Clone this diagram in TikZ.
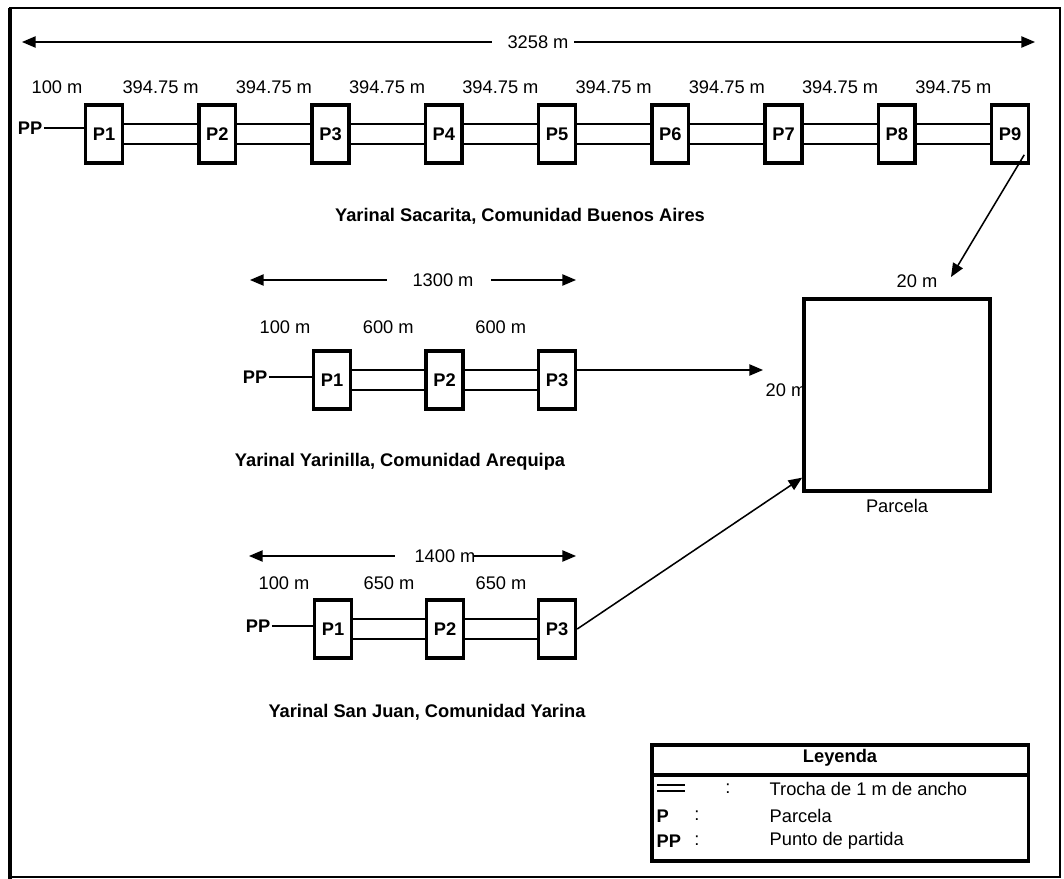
\documentclass[tikz,border=0pt]{standalone}
\usepackage{fontspec}
\setmainfont{Liberation Sans}
\usetikzlibrary{arrows.meta, positioning, calc}

\begin{document}
\begin{tikzpicture}[x=0.025cm, y=-0.025cm,
  every node/.style={font=\fontsize{13}{15}\selectfont, inner sep=1pt},
  parc/.style={draw, line width=2.6pt, minimum width=0.92cm, minimum height=1.45cm,
               font=\fontsize{13}{15}\selectfont\bfseries, inner sep=0pt},
  ttl/.style={font=\fontsize{13}{15}\selectfont\bfseries},
  pp/.style={font=\fontsize{13}{15}\selectfont\bfseries},
  trocha/.style={line width=0.9pt},
  dim/.style={-{Triangle[length=3.4mm,width=2.8mm]}, line width=1.1pt},
  conn/.style={-{Triangle[length=3.4mm,width=2.8mm]}, line width=1.1pt},
  legline/.style={line width=2.2pt},
]
\useasboundingbox (0,0) rectangle (1064,879);

%% ---- Frame ----
\draw[line width=1pt] (10,8) rectangle (1060,877);
\draw[line width=2.2pt] (10,8) -- (10,879);

%% ---- Row 1: Yarinal Sacarita ----
\node (dA) at (538,42) {3258 m};
\coordinate (dAl) at (22,42);
\coordinate (dAr) at (1035,42);
\draw[dim] ([xshift=-3.5mm]dA.west) -- (dAl);
\draw[dim] ([xshift=1mm]dA.east) -- (dAr);

\foreach \i in {1,...,9}
  \node[parc] (a\i) at ({104+113.25*(\i-1)},134) {P\i};
\foreach \i [count=\j from 2] in {1,...,8} {
  \draw[trocha] ([yshift=2.5mm]a\i.east) -- ([yshift=2.5mm]a\j.west);
  \draw[trocha] ([yshift=-2.5mm]a\i.east) -- ([yshift=-2.5mm]a\j.west);
  \node (da\i) at ({104+113.25*(\i-0.5)},87) {394.75 m};
}
\node (da0) at (57,87) {100 m};
\node[pp] (ppA) at (30,128) {PP};
\draw[trocha] (ppA.east) -- (ppA.east -| a1.west);
\node[ttl] (tA) at (520,216) {Yarinal Sacarita, Comunidad Buenos Aires};

%% ---- Row 2: Yarinal Yarinilla ----
\node (dB) at (443,280) {1300 m};
\coordinate (dBl) at (250,280);
\coordinate (dBr) at (576,280);
\draw[dim] ([xshift=-6mm]dB.west) -- (dBl);
\draw[dim] ([xshift=4mm]dB.east) -- (dBr);

\foreach \i in {1,2,3}
  \node[parc] (b\i) at ({332+112.5*(\i-1)},380) {P\i};
\foreach \i [count=\j from 2] in {1,2} {
  \draw[trocha] ([yshift=2.5mm]b\i.east) -- ([yshift=2.5mm]b\j.west);
  \draw[trocha] ([yshift=-2.5mm]b\i.east) -- ([yshift=-2.5mm]b\j.west);
  \node (db\i) at ({332+112.5*(\i-0.5)},327) {600 m};
}
\node (db0) at (285,327) {100 m};
\node[pp] (ppB) at (255,377) {PP};
\draw[trocha] (ppB.east) -- (ppB.east -| b1.west);
\node[ttl] (tB) at (400,462) {Yarinal Yarinilla, Comunidad Arequipa};

%% ---- Row 3: Yarinal San Juan ----
\node (dC) at (445,556) {1400 m};
\coordinate (dCl) at (249,556);
\coordinate (dCr) at (576,556);
\draw[dim] ([xshift=-4.5mm]dC.west) -- (dCl);
\draw[dim] ([xshift=-1mm]dC.east) -- (dCr);

\foreach \i in {1,2,3}
  \node[parc] (c\i) at ({333+112*(\i-1)},629) {P\i};
\foreach \i [count=\j from 2] in {1,2} {
  \draw[trocha] ([yshift=2.5mm]c\i.east) -- ([yshift=2.5mm]c\j.west);
  \draw[trocha] ([yshift=-2.5mm]c\i.east) -- ([yshift=-2.5mm]c\j.west);
  \node (dc\i) at ({333+112*(\i-0.5)},583) {650 m};
}
\node (dc0) at (284,583) {100 m};
\node[pp] (ppC) at (258,626) {PP};
\draw[trocha] (ppC.east) -- (ppC.east -| c1.west);
\node[ttl] (tC) at (427,712) {Yarinal San Juan, Comunidad Yarina};

%% ---- Parcela 20 x 20 m ----
\node (lw) at (786,390) {20 m};
\node (ln) at (917,281) {20 m};
\node[draw, fill=white, line width=2.6pt, minimum width=4.65cm, minimum height=4.8cm]
  (parcela) at (897,395) {};
\node (lp) at (897,506) {Parcela};

%% ---- Arrows to the plot ----
\coordinate (t9) at (951,277);
\coordinate (t2) at (763,370);
\draw[conn] ([xshift=-1.5mm,yshift=2.5mm]a9.south east) -- (t9);
\draw[conn] ([yshift=2.5mm]b3.east) -- (t2);
\draw[conn] (c3.east) -- ([yshift=3.8mm]parcela.south west);

%% ---- Legend ----
\node[draw, legline, minimum width=9.4cm, minimum height=2.9cm] (leg) at (840,803) {};
\coordinate (hsep) at (0,775);
\draw[legline] (leg.west |- hsep) -- (leg.east |- hsep);
\node[ttl] (lh) at (840,758) {Leyenda};
\draw[trocha] (657,785) -- (685,785);
\draw[trocha] (657,791) -- (685,791);
\node (k1) at (728,789) {:};
\node[pp, anchor=west] (s2) at (655,816) {P};
\node (k2) at (697,816) {:};
\node[pp, anchor=west] (s3) at (655,841) {PP};
\node (k3) at (697,841) {:};
\node[anchor=west] (e1) at (768,789) {Trocha de 1 m de ancho};
\node[anchor=west] (e2) at (768,816) {Parcela};
\node[anchor=west] (e3) at (768,841) {Punto de partida};
\end{tikzpicture}
\end{document}
